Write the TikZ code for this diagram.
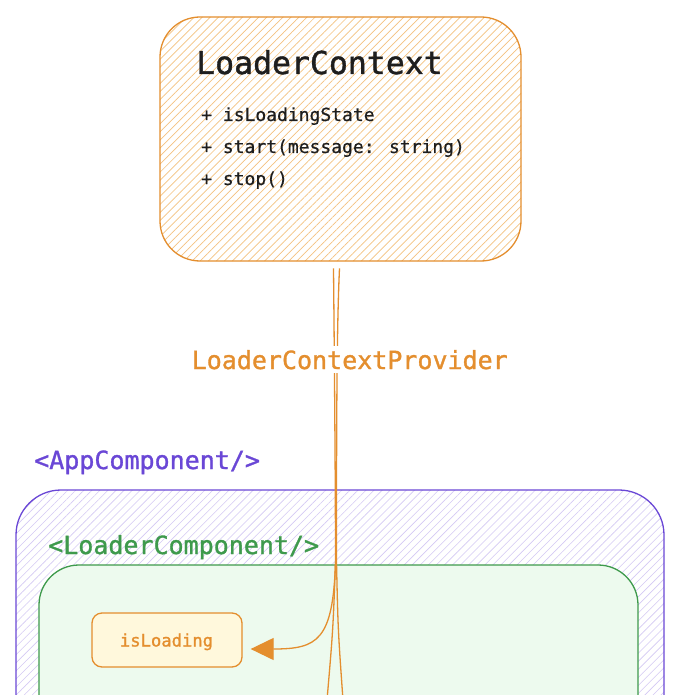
\documentclass[tikz,border=0pt]{standalone}
\usepackage{fontspec}
\setmonofont{DejaVu Sans Mono}
\newfontfamily\semimono{DejaVu Sans Mono}[FakeBold=1.2]
\newfontfamily\medmono{DejaVu Sans Mono}[FakeBold=0.6]
\usetikzlibrary{patterns.meta,arrows.meta}
\definecolor{orng}{HTML}{E48E2E}
\definecolor{orhatch}{HTML}{F4C27F}
\definecolor{purp}{HTML}{6A47D6}
\definecolor{puhatch}{HTML}{D4C9F4}
\definecolor{grn}{HTML}{3E9A4C}
\definecolor{grfill}{HTML}{EDFAEE}
\definecolor{ylfill}{HTML}{FFF8DC}
\definecolor{ink}{HTML}{1E1E1E}
\begin{document}
\begin{tikzpicture}[x=1pt,y=-1pt,
  ctxbox/.style={draw=orng, line width=1.3pt, rounded corners=40pt, inner sep=0pt,
    pattern={Lines[angle=45,distance=5.7pt,line width=0.7pt]}, pattern color=orhatch},
  appbox/.style={draw=purp, line width=1.3pt, rounded corners=45pt, inner sep=0pt,
    preaction={fill=white},
    pattern={Lines[angle=45,distance=5.7pt,line width=0.6pt]}, pattern color=puhatch},
  compbox/.style={draw=grn, line width=1.3pt, rounded corners=40pt, inner sep=0pt, fill=grfill},
  statebox/.style={draw=orng, line width=1.3pt, rounded corners=10pt, fill=ylfill,
    text=orng, font=\semimono\fontsize{17.2}{20}\selectfont},
  title/.style={anchor=base west, inner sep=0pt, text=ink, font=\semimono\fontsize{31.5}{36}\selectfont},
  member/.style={anchor=base west, inner sep=0pt, text=ink, font=\medmono\fontsize{18}{22}\selectfont},
  biglabel/.style={anchor=base west, inner sep=0pt, font=\semimono\fontsize{25}{30}\selectfont},
  conn/.style={draw=orng, line width=1.3pt},
  tip/.style={-{Triangle[length=23pt,width=22pt]}}
]
\clip (0,0) rectangle (680,695);
\fill[white] (0,0) rectangle (680,695);

% LoaderContext class box
\node[ctxbox, minimum width=361pt, minimum height=244pt] (ctx) at (340.5,139) {};
\node[title] (ctxtitle) at (196,74) {LoaderContext};
\node[member] (m1) at (201,121) {+ isLoadingState};
\node[member] (m2) at (201,153) {+ start(message: string)};
\node[member] (m3) at (201,185) {+ stop()};

% AppComponent
\node[biglabel, text=purp] (applabel) at (34,469) {<AppComponent/>};
\node[appbox, minimum width=648pt, minimum height=310pt] (app) at (340,645) {};

% LoaderComponent
\node[biglabel, text=grn] (loaderlabel) at (48,554) {<LoaderComponent/>};
\node[compbox, minimum width=599pt, minimum height=270pt] (loader) at (338.5,700) {};

% isLoading state
\node[statebox, minimum width=150pt, minimum height=54pt] (isl) at (167,640) {};
\node[anchor=base, inner sep=0pt, text=orng, font=\semimono\fontsize{17.2}{20}\selectfont] (isltext) at (166.5,646.5) {isLoading};

% connector coordinates
\coordinate (p1) at ([xshift=-7pt,yshift=-7pt]ctx.south);
\coordinate (p2) at ([xshift=-1pt,yshift=-7pt]ctx.south);
\coordinate (q1) at (335.5,562);
\coordinate (q2) at (336.5,562);
\coordinate (e1) at (327,700);
\coordinate (e2) at (343,700);

\draw[conn, tip] (p1) .. controls (335,420) and (335.5,520) .. (q1)
   .. controls (333,640) and (318,649) .. ([xshift=8pt,yshift=-9pt]isl.east);
\draw[conn] (p2) .. controls (336.5,330) and (336.5,450) .. (q2)
   .. controls (338,630) .. (e2);
\draw[conn] (q1) .. controls (333,630) .. (e1);

% provider label
\node[anchor=base west, fill=white, inner xsep=2pt, inner ysep=4pt, text=orng,
  font=\semimono\fontsize{25}{30}\selectfont] (prov) at (189.5,369) {LoaderContextProvider};
\end{tikzpicture}
\end{document}
